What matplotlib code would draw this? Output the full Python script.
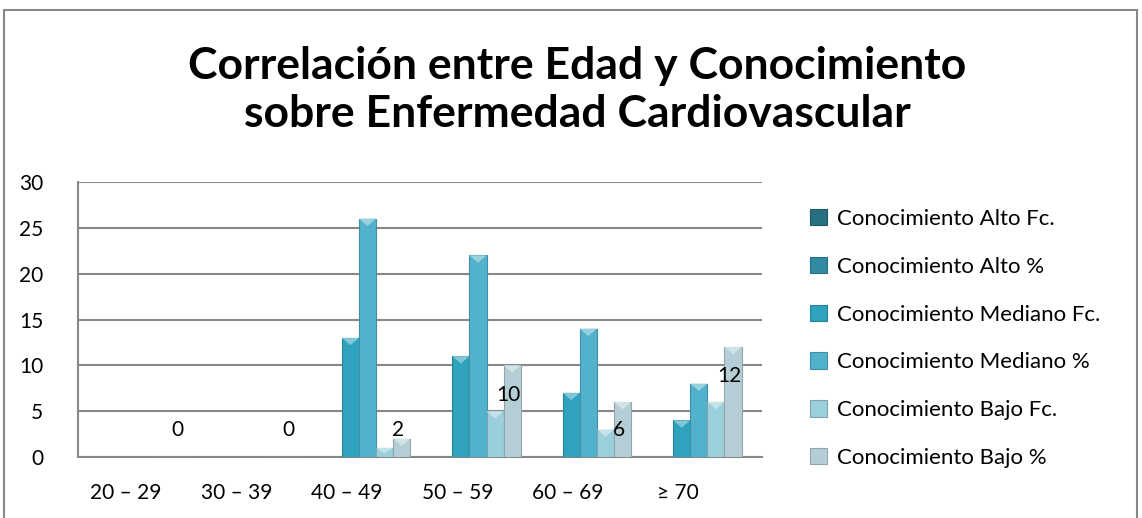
import numpy as np
import matplotlib
matplotlib.use("Agg")
import matplotlib.pyplot as plt
from matplotlib.patches import Polygon, Rectangle
from matplotlib import colors as mcolors

plt.rcParams['font.family'] = ['Lato', 'DejaVu Sans']

# data
categories = ["20 – 29", "30 – 39", "40 – 49", "50 – 59", "60 – 69", "≥ 70"]
series_names = ["Conocimiento Alto Fc.", "Conocimiento Alto %",
                "Conocimiento Mediano Fc.", "Conocimiento Mediano %",
                "Conocimiento Bajo Fc.", "Conocimiento Bajo %"]
alto_fc = [0, 0, 0, 0, 0, 0]
alto_pct = [0, 0, 0, 0, 0, 0]
mediano_fc = [0, 0, 13, 11, 7, 4]
mediano_pct = [0, 0, 26, 22, 14, 8]
bajo_fc = [0, 0, 1, 5, 3, 6]
bajo_pct = [0, 0, 2, 10, 6, 12]
series = [alto_fc, alto_pct, mediano_fc, mediano_pct, bajo_fc, bajo_pct]

colors = ["#276f82", "#2f8aa2", "#2fa2bd", "#52b2cc", "#9ccfdc", "#b5ced6"]

fig = plt.figure(figsize=(11.42, 5.18), dpi=100)
W, H = 1142, 518
ax = fig.add_axes([78 / W, 1 - 457 / H, (762 - 78) / W, (457 - 182) / H])

x = np.arange(len(categories))
w = 0.155
shift = 0.11

for i, (vals, name, col) in enumerate(zip(series, series_names, colors)):
    dark = tuple(c * 0.8 for c in mcolors.to_rgb(col))
    bars = ax.bar(x + (i - 2.5) * w + shift, vals, w, color=col, edgecolor=dark,
                  linewidth=0.8, label=name, zorder=3)
    light = tuple(min(1, c * 0.6 + 0.4) for c in mcolors.to_rgb(col))
    for r in bars:
        h = r.get_height()
        if h <= 0:
            continue
        x0, bw = r.get_x(), r.get_width()
        d = min(0.8, h * 0.6)
        ax.add_patch(Polygon([(x0, h), (x0 + bw, h), (x0 + bw / 2, h - d)],
                             closed=True, facecolor=light, edgecolor='none',
                             zorder=4))

# data labels on the last series
for xi, v in zip(x, bajo_pct):
    ax.text(xi + 2.5 * w + shift - 0.03, max(v - 3.2, 3.0), str(v), ha='center',
            va='center', fontsize=15, zorder=5)

ax.set_xlim(-0.435, 5.76)
ax.set_ylim(0, 30)
ax.set_yticks(np.arange(0, 31, 5))
ax.set_xticks(x)
ax.set_xticklabels(categories)
ax.tick_params(axis='both', length=0, labelsize=15, colors='black')
ax.tick_params(axis='y', pad=25)
ax.tick_params(axis='x', pad=19)
ax.grid(axis='y', color='#888888', linewidth=1.5, zorder=0)
for s in ['top', 'right']:
    ax.spines[s].set_visible(False)
for s in ['left', 'bottom']:
    ax.spines[s].set_color('#888888')
    ax.spines[s].set_linewidth(1.5)

fig.text(577 / W, 1 - 90 / H,
         "Correlación entre Edad y Conocimiento\nsobre Enfermedad Cardiovascular",
         ha='center', va='center', fontsize=32, fontweight='bold',
         linespacing=1.25)

handles, labels = ax.get_legend_handles_labels()
fig.legend(handles, labels, loc='upper left', bbox_to_anchor=(790 / W, 1 - 189 / H),
           frameon=False, fontsize=16, labelspacing=1.25, handlelength=0.75,
           handleheight=0.75, handletextpad=0.45)

fig.patches.append(Rectangle((4 / W, -0.1), (1137 - 4) / W, 1.1 - 10 / H,
                             transform=fig.transFigure, fill=False,
                             edgecolor='#888888', linewidth=1.5))

fig.savefig("out.png", dpi=100)
